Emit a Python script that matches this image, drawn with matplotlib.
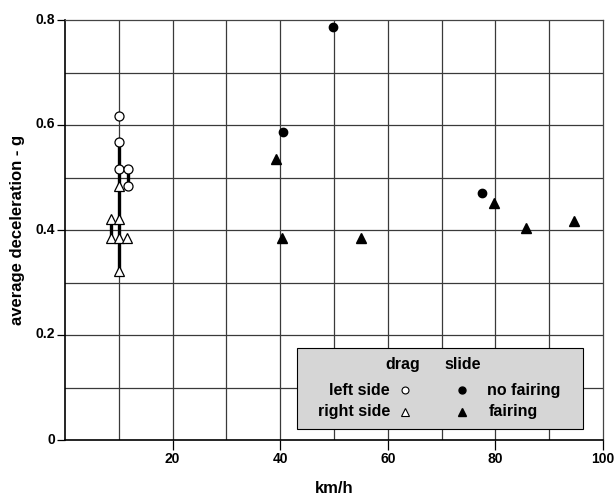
import matplotlib
matplotlib.use("Agg")
import matplotlib.pyplot as plt
from matplotlib.patches import Rectangle
from matplotlib.transforms import ScaledTranslation

plt.rcParams['font.family'] = ['Liberation Sans', 'DejaVu Sans']
plt.rcParams['font.weight'] = 'bold'

# drag tests (open markers)
drag_left_x = [10, 10, 10, 11.7, 11.7]
drag_left_y = [0.618, 0.567, 0.516, 0.516, 0.484]
drag_right_x = [10, 8.6, 10, 8.6, 10, 11.5, 10]
drag_right_y = [0.484, 0.421, 0.421, 0.384, 0.384, 0.384, 0.322]
# thick range bars: x, low, high
range_x = [10, 8.6, 11.7]
range_low = [0.322, 0.384, 0.484]
range_high = [0.567, 0.421, 0.516]

# slide tests (filled markers)
nofair_x = [40.5, 49.8, 77.6]
nofair_y = [0.587, 0.787, 0.470]
fair_x = [39.3, 40.4, 55.0, 79.8, 85.6, 94.6]
fair_y = [0.535, 0.385, 0.384, 0.452, 0.403, 0.418]

xticks = [20, 40, 60, 80, 100]
yticks = [0, 0.2, 0.4, 0.6, 0.8]
ytick_labels = ['0', '0.2', '0.4', '0.6', '0.8']

fig = plt.figure(figsize=(6.14, 5.01), dpi=100)
ax = fig.add_axes([65/614, 61/501, 538/614, 420/501])
ax.set_xlim(0, 100)
ax.set_ylim(0, 0.8)

# grid
for gx in range(10, 100, 10):
    ax.axvline(gx, color='#3a3a3a', lw=0.9, zorder=1)
for gy in [0.1, 0.2, 0.3, 0.4, 0.5, 0.6, 0.7]:
    ax.axhline(gy, color='#3a3a3a', lw=0.9, zorder=1)

ax.vlines(range_x, range_low, range_high, colors='black', lw=2.4, zorder=3)
ax.plot(drag_left_x, drag_left_y, 'o', ms=6.5, mfc='white', mec='black', mew=0.9, zorder=4)
ax.plot(drag_right_x, drag_right_y, '^', ms=6.5, mfc='white', mec='black', mew=0.9, zorder=4)
ax.plot(nofair_x, nofair_y, 'o', ms=6, color='black', zorder=4)
ax.plot(fair_x, fair_y, '^', ms=6.5, color='black', zorder=4)

ax.set_xticks(xticks)
ax.set_xticklabels([str(t) for t in xticks], fontsize=10, fontweight='bold')
ax.set_yticks(yticks)
ax.set_yticklabels(ytick_labels, fontsize=10, fontweight='bold')
ax.tick_params(axis='x', direction='out', length=7, width=0.9, pad=1.5)
ax.tick_params(axis='y', direction='out', length=6, width=0.9, pad=1)
off = ScaledTranslation(0, 2/100, fig.dpi_scale_trans)
for lab in ax.get_yticklabels():
    lab.set_transform(lab.get_transform() + off)

for side in ['left', 'bottom']:
    ax.spines[side].set_linewidth(1.2)
for side in ['top', 'right']:
    ax.spines[side].set_linewidth(0.9)
    ax.spines[side].set_color('#444444')

ax.set_xlabel('km/h', fontsize=12, fontweight='bold', labelpad=11)
ax.set_ylabel('average deceleration - g', fontsize=12, fontweight='bold', labelpad=8)

# legend box
ax.add_patch(Rectangle((0.431, 0.026), 0.532, 0.193, transform=ax.transAxes,
                       facecolor='#d6d6d6', edgecolor='black', lw=0.8, zorder=5))
tk = dict(transform=ax.transAxes, fontsize=11.5, fontweight='bold', zorder=6, va='center')
ax.text(0.628, 0.179, 'drag', ha='center', **tk)
ax.text(0.740, 0.179, 'slide', ha='center', **tk)
ax.text(0.604, 0.119, 'left side', ha='right', **tk)
ax.text(0.604, 0.067, 'right side', ha='right', **tk)
ax.text(0.784, 0.119, 'no fairing', ha='left', **tk)
ax.text(0.788, 0.067, 'fairing', ha='left', **tk)
mk = dict(transform=ax.transAxes, zorder=6, clip_on=False)
ax.plot([0.632], [0.119], 'o', ms=5, mfc='white', mec='black', mew=0.8, **mk)
ax.plot([0.632], [0.067], '^', ms=5.5, mfc='white', mec='black', mew=0.8, **mk)
ax.plot([0.738], [0.119], 'o', ms=5, color='black', **mk)
ax.plot([0.738], [0.067], '^', ms=5.5, color='black', **mk)

fig.savefig('out.png', dpi=100)
